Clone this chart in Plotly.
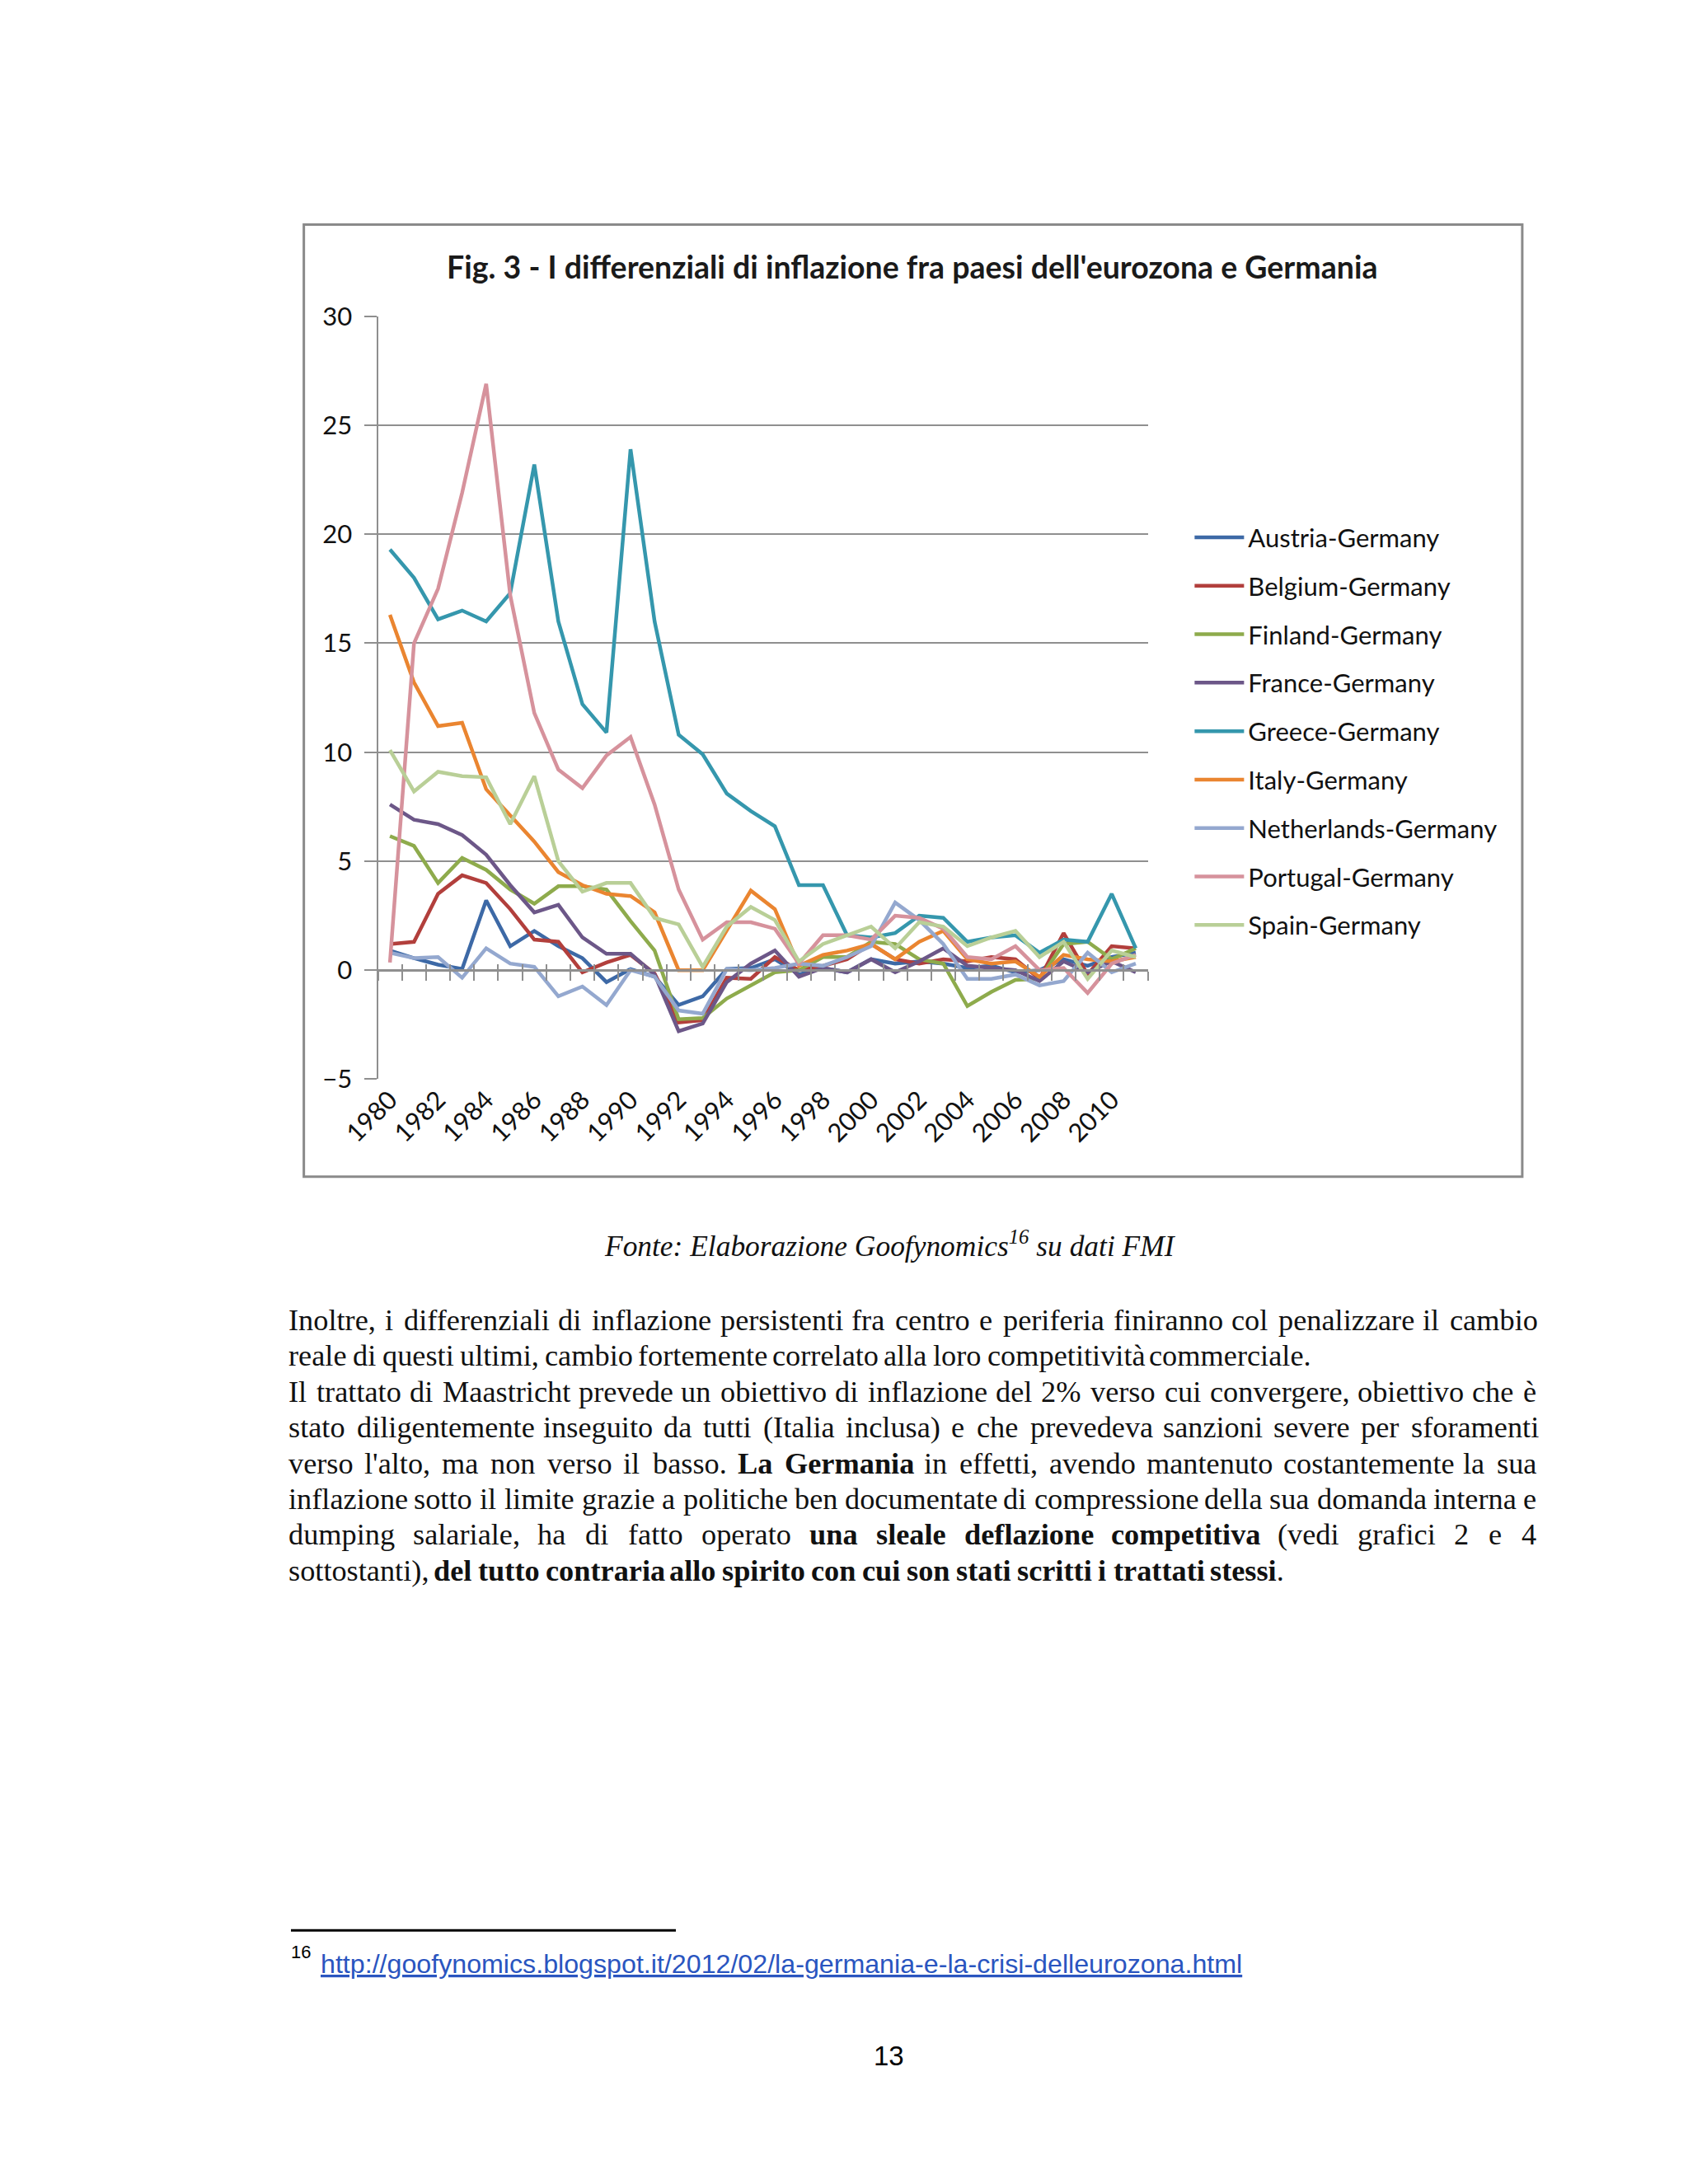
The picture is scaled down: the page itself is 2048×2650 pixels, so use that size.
import plotly.graph_objects as go

# ---------------- DATA ----------------
years = list(range(1980, 2012))

austria = [0.9, 0.55, 0.25, 0.05, 3.2, 1.1, 1.8, 1.1, 0.55, -0.55, 0.05, -0.3, -1.6, -1.2, 0.05, 0.1,
           0.5, -0.2, 0.1, -0.1, 0.5, 0.3, 0.4, 0.3, 0.1, 0.2, -0.1, 0.0, 0.5, 0.2, 0.6, 0.8]
belgium = [1.2, 1.3, 3.5, 4.35, 4.0, 2.8, 1.4, 1.3, -0.1, 0.35, 0.7, -0.15, -2.4, -2.3, -0.35, -0.4,
           0.6, 0.0, 0.2, 0.5, 1.2, 0.5, 0.3, 0.5, 0.4, 0.6, 0.5, -0.4, 1.7, -0.2, 1.1, 1.0]
finland = [6.15, 5.7, 4.0, 5.15, 4.6, 3.7, 3.05, 3.85, 3.85, 3.7, 2.25, 0.9, -2.25, -2.2, -1.3, -0.7,
           -0.1, 0.0, 0.6, 0.6, 1.3, 1.2, 0.5, 0.3, -1.65, -1.0, -0.45, -0.4, 1.2, 1.3, 0.5, 1.0]
france = [7.6, 6.9, 6.7, 6.2, 5.3, 3.9, 2.65, 3.0, 1.5, 0.75, 0.75, -0.2, -2.8, -2.45, -0.55, 0.3,
          0.9, -0.3, 0.1, -0.1, 0.5, -0.1, 0.4, 1.0, 0.2, 0.1, 0.0, -0.5, 0.4, -0.1, 0.4, -0.1]
greece = [19.3, 18.0, 16.1, 16.5, 16.0, 17.3, 23.2, 16.0, 12.2, 10.9, 23.9, 16.0, 10.8, 9.9, 8.1, 7.3,
          6.6, 3.9, 3.9, 1.6, 1.5, 1.7, 2.5, 2.4, 1.3, 1.5, 1.6, 0.8, 1.4, 1.3, 3.5, 1.0]
italy = [16.3, 13.2, 11.2, 11.35, 8.3, 7.1, 5.9, 4.5, 3.9, 3.5, 3.4, 2.65, 0.0, 0.0, 1.8, 3.65,
         2.8, 0.2, 0.7, 0.9, 1.2, 0.5, 1.3, 1.8, 0.5, 0.3, 0.4, -0.3, 0.7, 0.5, 0.4, 0.6]
netherlands = [0.8, 0.55, 0.6, -0.35, 1.0, 0.3, 0.15, -1.2, -0.75, -1.6, 0.0, -0.3, -1.85, -2.0, 0.05, 0.0,
               0.1, 0.3, 0.2, 0.6, 1.1, 3.1, 2.3, 1.2, -0.4, -0.4, -0.2, -0.7, -0.5, 0.8, -0.1, 0.3]
portugal = [0.35, 15.0, 17.5, 21.9, 26.9, 17.2, 11.8, 9.2, 8.35, 9.85, 10.7, 7.6, 3.7, 1.4, 2.2, 2.2,
            1.9, 0.3, 1.6, 1.6, 1.4, 2.5, 2.4, 1.9, 0.6, 0.5, 1.1, 0.0, 0.1, -1.05, 0.3, 0.7]
spain = [10.1, 8.2, 9.1, 8.9, 8.85, 6.7, 8.9, 5.0, 3.6, 4.0, 4.0, 2.4, 2.1, 0.15, 2.0, 2.9,
         2.3, 0.4, 1.2, 1.6, 2.0, 1.0, 2.2, 2.0, 1.1, 1.5, 1.8, 0.6, 1.3, -0.4, 0.9, 0.6]

series_names = ["Austria-Germany", "Belgium-Germany", "Finland-Germany", "France-Germany",
                "Greece-Germany", "Italy-Germany", "Netherlands-Germany", "Portugal-Germany",
                "Spain-Germany"]
series_values = [austria, belgium, finland, france, greece, italy, netherlands, portugal, spain]
series_colors = ["#3d69a6", "#b23f3c", "#8eab4c", "#6c5788", "#3597ad", "#ea8530",
                 "#94a8cf", "#d6929c", "#b9cf97"]

y_ticks = [-5, 0, 5, 10, 15, 20, 25, 30]
x_label_years = years[::2]

title_text = "Fig. 3 - I differenziali di inflazione fra paesi dell'eurozona e Germania"
caption_text = "<i>Fonte: Elaborazione Goofynomics<sup>16</sup> su dati FMI</i>"
body_lines = [
    ("Inoltre, i differenziali di inflazione persistenti fra centro e periferia finiranno col penalizzare il cambio", True),
    ("reale di questi ultimi, cambio fortemente correlato alla loro competitività commerciale.", False),
    ("Il trattato di Maastricht prevede un obiettivo di inflazione del 2% verso cui convergere, obiettivo che è", True),
    ("stato diligentemente inseguito da tutti (Italia inclusa) e che prevedeva sanzioni severe per sforamenti", True),
    ("verso l'alto, ma non verso il basso. **La Germania** in effetti, avendo mantenuto costantemente la sua", True),
    ("inflazione sotto il limite grazie a politiche ben documentate di compressione della sua domanda interna e", True),
    ("dumping salariale, ha di fatto operato **una sleale deflazione competitiva** (vedi grafici 2 e 4", True),
    ("sottostanti), **del tutto contraria allo spirito con cui son stati scritti i trattati stessi**.", False),
]
footnote_num = "16"
footnote_url = "http://goofynomics.blogspot.it/2012/02/la-germania-e-la-crisi-delleurozona.html"
page_number = "13"

# ---------------- LAYOUT HELPERS ----------------
W, H = 2048, 2650


def px(x):
    return x / W


def py(y):
    return 1 - y / H


PX0, PX1 = 413, 1369        # plot area left/right (pixels)
PY_TOP, PY_BOT = 361, 1300  # pixel rows of y=30 and y=-5
YMIN, YMAX = -5, 30

# Times (Liberation Serif) advance widths, 1/1000 em
TR = dict(zip("abcdefghijklmnopqrstuvwxyz", [444, 500, 444, 500, 444, 333, 500, 500, 278, 278, 500, 278, 778,
                                              500, 500, 500, 500, 333, 389, 278, 500, 500, 722, 500, 500, 444]))
TR.update({"I": 333, "M": 889, "L": 611, "G": 722, ",": 250, ".": 250, "(": 333, ")": 333, "'": 180,
           "%": 833, " ": 250, "à": 444, "è": 444, "é": 444, "ù": 500, "ò": 500, "ì": 278})
for d in "0123456789":
    TR[d] = 500
TB = dict(zip("abcdefghijklmnopqrstuvwxyz", [500, 556, 444, 556, 444, 333, 500, 556, 278, 333, 556, 278, 833,
                                              556, 500, 556, 556, 444, 389, 333, 556, 500, 722, 500, 500, 444]))
TB.update({"L": 667, "G": 778, ",": 250, ".": 250, "(": 333, ")": 333, " ": 250})


def parse_line(s):
    chars, bold = [], False
    i = 0
    while i < len(s):
        if s[i:i + 2] == "**":
            bold = not bold
            i += 2
            continue
        chars.append((s[i], bold))
        i += 1
    words, cur = [], []
    for c, b in chars:
        if c == " ":
            if cur:
                words.append(cur)
            cur = []
        else:
            cur.append((c, b))
    if cur:
        words.append(cur)
    return words


def word_em(word):
    return sum((TB if b else TR).get(c, 500) for c, b in word) / 1000.0


def word_html(word):
    out, run, rb = "", "", None
    for c, b in word:
        if rb is None or b == rb:
            run += c
            rb = b
        else:
            out += ("<b>%s</b>" % run) if rb else run
            run, rb = c, b
    out += ("<b>%s</b>" % run) if rb else run
    return out


BODY_L, BODY_R = 301, 1850
line2_words = parse_line(body_lines[1][0])
line2_em = sum(word_em(w) for w in line2_words) + 0.25 * (len(line2_words) - 1)
body_size = 1265 / line2_em
line_y = [1597 + 44 * k for k in range(len(body_lines))]

annotations = []
for (txt, justify), yy in zip(body_lines, line_y):
    words = parse_line(txt)
    widths = [word_em(w) * body_size for w in words]
    if justify:
        gap = (BODY_R - BODY_L - sum(widths)) / (len(words) - 1)
    else:
        gap = 0.25 * body_size
    xcur = BODY_L
    for w, wd in zip(words, widths):
        annotations.append(dict(x=px(xcur), y=py(yy), xref="paper", yref="paper", text=word_html(w),
                                showarrow=False, xanchor="left", yanchor="middle", borderpad=0,
                                font=dict(family="Liberation Serif", size=body_size, color="#111111")))
        xcur += wd + gap

# title
annotations.append(dict(x=px(1077), y=py(300), xref="paper", yref="paper", text="<b>%s</b>" % title_text,
                        showarrow=False, xanchor="center", yanchor="middle",
                        font=dict(family="Lato", size=37.5, color="#1a1a1a")))
# caption
annotations.append(dict(x=px(1049), y=py(1503), xref="paper", yref="paper", text=caption_text,
                        showarrow=False, xanchor="center", yanchor="middle",
                        font=dict(family="Liberation Serif", size=body_size * 0.975, color="#111111")))
# footnote
annotations.append(dict(x=px(304), y=py(2375), xref="paper", yref="paper", text=footnote_num,
                        showarrow=False, xanchor="left", yanchor="middle", borderpad=0,
                        font=dict(family="Liberation Sans", size=22, color="#000000")))
annotations.append(dict(x=px(341), y=py(2389), xref="paper", yref="paper", text="<u>%s</u>" % footnote_url,
                        showarrow=False, xanchor="left", yanchor="middle", borderpad=0,
                        font=dict(family="Liberation Sans", size=32.2, color="#2a55c0")))
# page number
annotations.append(dict(x=px(1048), y=py(2502), xref="paper", yref="paper", text=page_number,
                        showarrow=False, xanchor="center", yanchor="middle",
                        font=dict(family="Liberation Sans", size=33, color="#000000")))

# ---------------- FIGURE ----------------
fig = go.Figure()
for name, vals, col in zip(series_names, series_values, series_colors):
    fig.add_trace(go.Scatter(x=years, y=vals, name=name, mode="lines", legendgroup=name,
                             line=dict(color=col, width=4.5), hoverinfo="x+y+name"))
fig.add_trace(go.Scatter(x=[years[0]], y=[None], xaxis="x2", showlegend=False, hoverinfo="skip"))
fig.add_trace(go.Scatter(x=[years[0]], y=[None], xaxis="x3", showlegend=False, hoverinfo="skip"))

dom_y = [py(PY_BOT), py(PY_TOP)]
zero_pos = dom_y[0] + (0 - YMIN) / (YMAX - YMIN) * (dom_y[1] - dom_y[0])
xr = [years[0] - 0.5, years[-1] + 0.5]
bounds = [years[0] - 0.5 + k for k in range(len(years) + 1)]
grid = "#8f8f8f"
tickfont = dict(family="Lato", size=31, color="#111111")

fig.update_layout(
    width=W, height=H, margin=dict(l=0, r=0, t=0, b=0),
    paper_bgcolor="white", plot_bgcolor="white",
    showlegend=True,
    xaxis=dict(domain=[px(PX0), px(PX1)], range=xr, tickmode="array", tickvals=x_label_years,
               ticktext=[str(v) for v in x_label_years], tickangle=-45, showgrid=False, zeroline=False,
               showline=False, ticks="", tickfont=tickfont, fixedrange=True),
    xaxis2=dict(overlaying="x", anchor="free", position=zero_pos, range=xr, tickmode="array",
                tickvals=bounds, ticks="outside", ticklen=11, tickwidth=2, tickcolor=grid,
                showticklabels=False, showline=True, linecolor=grid, linewidth=2.5,
                showgrid=False, zeroline=False),
    xaxis3=dict(overlaying="x", anchor="free", position=zero_pos, range=xr, tickmode="array",
                tickvals=bounds, ticks="inside", ticklen=7, tickwidth=2, tickcolor=grid,
                showticklabels=False, showline=False, showgrid=False, zeroline=False),
    yaxis=dict(domain=dom_y, range=[YMIN, YMAX], tickmode="array", tickvals=y_ticks,
               showgrid=True, gridcolor=grid, gridwidth=2, showline=True, linecolor=grid, linewidth=2,
               ticks="outside", ticklen=15, tickwidth=2, tickcolor=grid, zeroline=False,
               tickfont=tickfont, ticklabelstandoff=8),
    legend=dict(x=px(1422), y=py(606), xanchor="left", yanchor="top", font=dict(family="Lato", size=31,
                color="#111111"), tracegroupgap=15.5, itemwidth=60, bgcolor="rgba(0,0,0,0)",
                traceorder="grouped"),
    annotations=annotations,
    shapes=[
        dict(type="rect", xref="paper", yref="paper", x0=px(321), x1=px(1834), y0=py(1420), y1=py(248),
             line=dict(color="#8a8a8a", width=3), layer="below"),
        dict(type="line", xref="paper", yref="paper", x0=px(305), x1=px(783), y0=py(2348), y1=py(2348),
             line=dict(color="#000000", width=3)),
    ],
)

fig.write_html("out.html")
